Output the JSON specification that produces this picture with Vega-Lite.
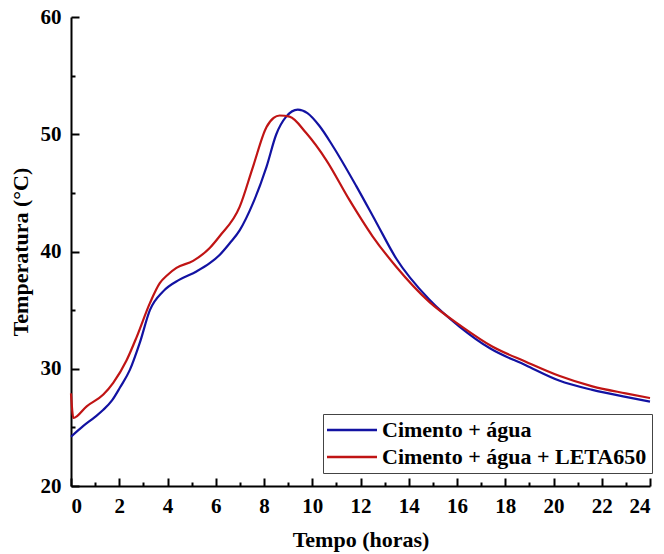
{
  "$schema": "https://vega.github.io/schema/vega-lite/v6.json",
  "width": 579,
  "height": 469,
  "autosize": "none",
  "padding": {"left": 71, "top": 17, "right": 14, "bottom": 68},
  "background": "white",
  "config": {
    "view": {"stroke": null},
    "axis": {
      "grid": false,
      "domainColor": "black",
      "domainWidth": 2,
      "tickColor": "black",
      "tickWidth": 2,
      "labelFont": "Liberation Serif",
      "labelFontWeight": "bold",
      "labelFontSize": 21,
      "labelColor": "black",
      "titleFont": "Liberation Serif",
      "titleFontWeight": "bold",
      "titleFontSize": 22,
      "titleColor": "black",
      "labelOverlap": false
    },
    "legend": {
      "orient": "none",
      "legendX": 252,
      "legendY": 397,
      "direction": "vertical",
      "strokeColor": "#444",
      "fillColor": "white",
      "padding": 5,
      "symbolType": "M-5,0H5",
      "symbolSize": 100,
      "symbolStrokeWidth": 2.5,
      "symbolOffset": 13,
      "labelFont": "Liberation Serif",
      "labelFontSize": 22,
      "labelFontWeight": "bold",
      "labelColor": "black",
      "labelOffset": 19,
      "rowPadding": 5,
      "labelLimit": 400
    }
  },
  "datasets": {
    "curves": [
      {"s": "Cimento + água", "t": 0, "T": 24.2},
      {"s": "Cimento + água", "t": 0.5, "T": 25.1},
      {"s": "Cimento + água", "t": 1, "T": 25.9},
      {"s": "Cimento + água", "t": 1.34, "T": 26.5},
      {"s": "Cimento + água", "t": 1.7, "T": 27.3},
      {"s": "Cimento + água", "t": 2.03, "T": 28.4},
      {"s": "Cimento + água", "t": 2.44, "T": 29.9},
      {"s": "Cimento + água", "t": 2.85, "T": 32.2},
      {"s": "Cimento + água", "t": 3.27, "T": 35.0},
      {"s": "Cimento + água", "t": 3.82, "T": 36.6},
      {"s": "Cimento + água", "t": 4.5, "T": 37.6},
      {"s": "Cimento + água", "t": 5.2, "T": 38.3},
      {"s": "Cimento + água", "t": 5.75, "T": 39.0},
      {"s": "Cimento + água", "t": 6.16, "T": 39.7},
      {"s": "Cimento + água", "t": 6.58, "T": 40.7},
      {"s": "Cimento + água", "t": 6.99, "T": 41.8},
      {"s": "Cimento + água", "t": 7.54, "T": 44.1},
      {"s": "Cimento + água", "t": 8.1, "T": 47.2},
      {"s": "Cimento + água", "t": 8.51, "T": 50.0},
      {"s": "Cimento + água", "t": 8.92, "T": 51.5},
      {"s": "Cimento + água", "t": 9.4, "T": 52.1},
      {"s": "Cimento + água", "t": 9.8, "T": 51.8},
      {"s": "Cimento + água", "t": 10.3, "T": 50.7},
      {"s": "Cimento + água", "t": 10.85, "T": 49.0},
      {"s": "Cimento + água", "t": 11.82, "T": 45.6},
      {"s": "Cimento + água", "t": 12.65, "T": 42.5},
      {"s": "Cimento + água", "t": 13.48, "T": 39.4},
      {"s": "Cimento + água", "t": 14.85, "T": 35.9},
      {"s": "Cimento + água", "t": 16.1, "T": 33.6},
      {"s": "Cimento + água", "t": 17.4, "T": 31.7},
      {"s": "Cimento + água", "t": 18.85, "T": 30.3},
      {"s": "Cimento + água", "t": 20.23, "T": 29.0},
      {"s": "Cimento + água", "t": 21.61, "T": 28.2},
      {"s": "Cimento + água", "t": 22.99, "T": 27.6},
      {"s": "Cimento + água", "t": 24, "T": 27.2},
      {"s": "Cimento + água + LETA650", "t": 0, "T": 27.9},
      {"s": "Cimento + água + LETA650", "t": 0.1, "T": 25.8},
      {"s": "Cimento + água + LETA650", "t": 0.65, "T": 26.8},
      {"s": "Cimento + água + LETA650", "t": 1.34, "T": 27.8},
      {"s": "Cimento + água + LETA650", "t": 1.75, "T": 28.8},
      {"s": "Cimento + água + LETA650", "t": 2.3, "T": 30.7},
      {"s": "Cimento + água + LETA650", "t": 2.72, "T": 32.7},
      {"s": "Cimento + água + LETA650", "t": 3.27, "T": 35.6},
      {"s": "Cimento + água + LETA650", "t": 3.68, "T": 37.3},
      {"s": "Cimento + água + LETA650", "t": 4.0, "T": 38.0},
      {"s": "Cimento + água + LETA650", "t": 4.37, "T": 38.6},
      {"s": "Cimento + água + LETA650", "t": 5.06, "T": 39.2},
      {"s": "Cimento + água + LETA650", "t": 5.75, "T": 40.3},
      {"s": "Cimento + água + LETA650", "t": 6.16, "T": 41.3},
      {"s": "Cimento + água + LETA650", "t": 6.99, "T": 43.8},
      {"s": "Cimento + água + LETA650", "t": 7.54, "T": 47.2},
      {"s": "Cimento + água + LETA650", "t": 8.1, "T": 50.6},
      {"s": "Cimento + água + LETA650", "t": 8.4, "T": 51.4},
      {"s": "Cimento + água + LETA650", "t": 8.65, "T": 51.6},
      {"s": "Cimento + água + LETA650", "t": 9.06, "T": 51.5},
      {"s": "Cimento + água + LETA650", "t": 9.75, "T": 50.1},
      {"s": "Cimento + água + LETA650", "t": 10.58, "T": 47.8},
      {"s": "Cimento + água + LETA650", "t": 11.54, "T": 44.4},
      {"s": "Cimento + água + LETA650", "t": 12.5, "T": 41.3},
      {"s": "Cimento + água + LETA650", "t": 13.48, "T": 38.7},
      {"s": "Cimento + água + LETA650", "t": 14.85, "T": 35.7},
      {"s": "Cimento + água + LETA650", "t": 16.2, "T": 33.6},
      {"s": "Cimento + água + LETA650", "t": 17.46, "T": 31.9},
      {"s": "Cimento + água + LETA650", "t": 18.85, "T": 30.6},
      {"s": "Cimento + água + LETA650", "t": 20.23, "T": 29.4},
      {"s": "Cimento + água + LETA650", "t": 21.61, "T": 28.5},
      {"s": "Cimento + água + LETA650", "t": 22.99, "T": 27.9},
      {"s": "Cimento + água + LETA650", "t": 24, "T": 27.5}
    ]
  },
  "data": {"name": "curves"},
  "mark": {"type": "line", "interpolate": "monotone", "strokeWidth": 2.2},
  "encoding": {
    "x": {
      "field": "t",
      "type": "quantitative",
      "title": "Tempo (horas)",
      "scale": {"domain": [0, 24], "nice": false},
      "axis": {
        "values": [0,1,2,3,4,5,6,7,8,9,10,11,12,13,14,15,16,17,18,19,20,21,22,23,24],
        "labelExpr": "datum.value % 2 ? '' : datum.label",
        "tickSize": {"condition": {"test": "datum.value % 2", "value": -4}, "value": -8},
        "labelPadding": 17,
        "titlePadding": 9
      }
    },
    "y": {
      "field": "T",
      "type": "quantitative",
      "title": "Temperatura (°C)",
      "scale": {"domain": [20, 60], "nice": false},
      "axis": {
        "values": [20,25,30,35,40,45,50,55,60],
        "labelExpr": "datum.value % 10 ? '' : datum.label",
        "tickSize": {"condition": {"test": "datum.value % 10", "value": -4}, "value": -8},
        "labelPadding": 18,
        "titlePadding": 8
      }
    },
    "color": {
      "field": "s",
      "type": "nominal",
      "title": null,
      "scale": {"domain": ["Cimento + água", "Cimento + água + LETA650"], "range": ["#1212a2", "#c01414"]}
    }
  }
}
